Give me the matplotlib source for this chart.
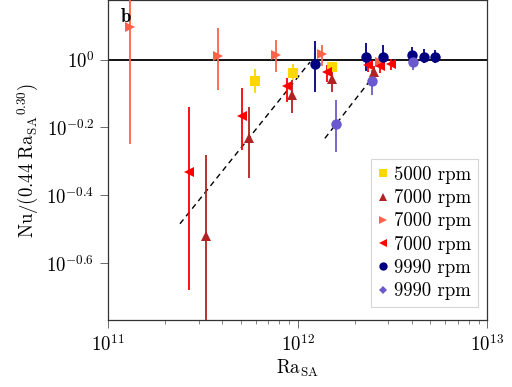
import numpy as np
import matplotlib
matplotlib.use("Agg")
import matplotlib.pyplot as plt
from matplotlib.lines import Line2D
from matplotlib.ticker import FixedLocator, LogLocator, NullFormatter, NullLocator

plt.rcParams["font.family"] = "serif"
plt.rcParams["font.serif"] = ["cmr10", "DejaVu Serif"]
plt.rcParams["mathtext.fontset"] = "cm"
plt.rcParams["axes.formatter.use_mathtext"] = True

# 5000 rpm (squares)
ra_5000 = [5.94e11, 9.46e11, 1.51e12]
nu_5000 = [0.865, 0.915, 0.950]
lo_5000 = [0.798, 0.871, 0.920]
hi_5000 = [0.939, 0.971, 0.984]

# 7000 rpm (triangles up)
ra_7000a = [3.27e11, 5.52e11, 9.31e11, 1.52e12, 2.52e12]
nu_7000a = [0.301, 0.589, 0.787, 0.875, 0.922]
lo_7000a = [0.14, 0.447, 0.696, 0.803, 0.883]
hi_7000a = [0.523, 0.725, 0.871, 0.920, 0.958]

# 7000 rpm (triangles right)
ra_7000b = [1.30e11, 3.80e11, 7.67e11, 1.34e12, 2.72e12]
nu_7000b = [1.251, 1.025, 1.033, 1.037, 0.984]
lo_7000b = [0.564, 0.814, 0.922, 0.960, 0.955]
hi_7000b = [1.60, 1.240, 1.143, 1.105, 1.010]

# 7000 rpm (triangles left)
ra_7000c = [2.67e11, 5.06e11, 8.73e11, 1.42e12, 2.36e12, 2.72e12, 3.09e12]
nu_7000c = [0.467, 0.682, 0.838, 0.922, 0.965, 0.958, 0.971]
lo_7000c = [0.209, 0.542, 0.750, 0.861, 0.920, 0.914, 0.932]
hi_7000c = [0.725, 0.827, 0.883, 0.965, 0.998, 0.998, 1.005]

# 9990 rpm (circles, navy)
ra_9990a = [1.24e12, 2.28e12, 2.83e12, 3.99e12, 4.66e12, 5.30e12]
nu_9990a = [0.971, 1.021, 1.021, 1.033, 1.021, 1.016]
lo_9990a = [0.805, 0.926, 0.958, 0.999, 0.978, 0.975]
hi_9990a = [1.138, 1.118, 1.105, 1.092, 1.075, 1.068]

# 9990 rpm (circles, slate blue)
ra_9990b = [1.60e12, 2.45e12, 4.07e12]
nu_9990b = [0.646, 0.867, 0.984]
lo_9990b = [0.535, 0.787, 0.932]
hi_9990b = [0.760, 0.932, 1.033]

# dashed guide lines (end points)
fit1_ra = [2.39e11, 1.16e12]
fit1_nu = [0.328, 0.984]
fit2_ra = [1.39e12, 2.49e12]
fit2_nu = [0.586, 0.889]

series = [
    (ra_5000, nu_5000, lo_5000, hi_5000, "s", "#FFD700", "s", "5000 rpm"),
    (ra_7000a, nu_7000a, lo_7000a, hi_7000a, "^", "#B22222", "^", "7000 rpm"),
    (ra_7000b, nu_7000b, lo_7000b, hi_7000b, ">", "#FF6347", ">", "7000 rpm"),
    (ra_7000c, nu_7000c, lo_7000c, hi_7000c, "<", "#FF0000", "<", "7000 rpm"),
    (ra_9990a, nu_9990a, lo_9990a, hi_9990a, "o", "#000080", "o", "9990 rpm"),
    (ra_9990b, nu_9990b, lo_9990b, hi_9990b, "o", "#6A5ACD", "D", "9990 rpm"),
]

fig = plt.figure(figsize=(5.12, 3.87), dpi=100)
ax = fig.add_axes([0.2115, 0.1731, 0.7402, 0.8269])

ax.axhline(1.0, color="k", lw=1.3, zorder=1)

handles = []
for ra, nu, lo, hi, m, c, lm, lab in series:
    nu = np.array(nu)
    yerr = [nu - np.array(lo), np.array(hi) - nu]
    ax.errorbar(ra, nu, yerr=yerr, fmt=m, color=c, ecolor=c, elinewidth=1.3,
                capsize=0, markersize=7.5, markeredgewidth=0, zorder=3)
    ms = 6 if lm != "D" else 4.5
    handles.append(Line2D([], [], ls="none", marker=lm, color=c, markersize=ms,
                          markeredgewidth=0, label=lab))

ax.plot(fit1_ra, fit1_nu, "k--", lw=1.0, dashes=(4, 3), zorder=2)
ax.plot(fit2_ra, fit2_nu, "k--", lw=1.0, dashes=(4, 3), zorder=2)

ax.set_xscale("log")
ax.set_yscale("log")
ax.set_xlim(1e11, 1e13)
ax.set_ylim(10 ** -0.768, 10 ** 0.176)

ax.xaxis.set_major_locator(FixedLocator([1e11, 1e12, 1e13]))
ax.xaxis.set_minor_locator(LogLocator(base=10, subs=np.arange(2, 10)))
ax.xaxis.set_minor_formatter(NullFormatter())
ax.set_xticklabels([r"$10^{11}$", r"$10^{12}$", r"$10^{13}$"])

yt = [0.0, -0.2, -0.4, -0.6]
ax.yaxis.set_major_locator(FixedLocator([10 ** v for v in yt]))
ax.yaxis.set_minor_locator(NullLocator())
ax.set_yticklabels([r"$10^{0}$", r"$10^{-0.2}$", r"$10^{-0.4}$", r"$10^{-0.6}$"])

ax.tick_params(which="major", length=6, width=0.6, color="#555555", labelsize=13.5, pad=4)
ax.tick_params(which="minor", length=3, width=0.5, color="#555555")
for s in ax.spines.values():
    s.set_color("#333333")
    s.set_linewidth(0.9)

ax.set_xlabel(r"$\mathrm{Ra}_{\mathrm{SA}}$", fontsize=13.5, labelpad=2)
ax.set_ylabel(r"$\mathrm{Nu}/(0.44\ {\mathrm{Ra}_{\mathrm{SA}}}^{0.30})$", fontsize=13.5, labelpad=4)

ax.text(0.03, 0.975, r"$\mathbf{b}$", transform=ax.transAxes, fontsize=13.5,
        ha="left", va="top")

leg = ax.legend(handles=handles, loc="lower right", bbox_to_anchor=(0.985, 0.03),
                fontsize=13.5, frameon=True, fancybox=False, handlelength=0.6,
                handletextpad=0.3, labelspacing=0.28, borderpad=0.35,
                borderaxespad=0.2)
leg.get_frame().set_edgecolor("#cccccc")
leg.get_frame().set_linewidth(0.8)

fig.savefig("out.png", dpi=100)
